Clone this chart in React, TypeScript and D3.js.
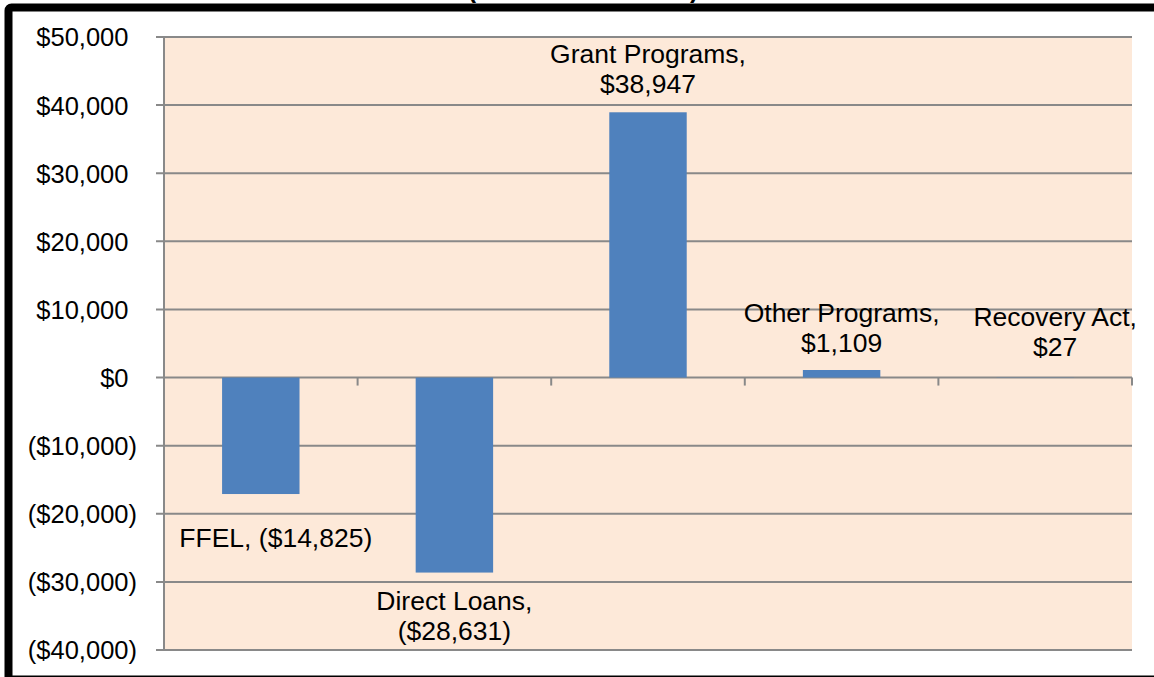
import React from "react";
import * as d3 from "d3";

// ---- data ----
const categories = ["FFEL", "Direct Loans", "Grant Programs", "Other Programs", "Recovery Act"];
const values = [-17100, -28631, 38947, 1109, 27];
const valueLabels = ["($14,825)", "($28,631)", "$38,947", "$1,109", "$27"];
const yTickValues = [-40000, -30000, -20000, -10000, 0, 10000, 20000, 30000, 40000, 50000];
const titleText = "(Dollars in Millions)";

// ---- layout ----
const W = 1154;
const H = 677;
const plot = { left: 164, right: 1132, top: 37, bottom: 650 };
const tickFont = 25.5;
const labelFont = 26.5;
const lineH = 30.5;
const font = "'Liberation Sans', Arial, Helvetica, sans-serif";
const gridColor = "#898989";
const barColor = "#4F81BD";
const bgColor = "#FDE9D9";
// per-label nudges (dx, dy) and single-line flags
const labelNudge = [
  { dx: 15, dy: 16, one: true },
  { dx: 0, dy: 0, one: false },
  { dx: 0, dy: -1, one: false },
  { dx: 0, dy: 0, one: false },
  { dx: 20, dy: -3, one: false },
];

function fmtTick(v: number) {
  const f = d3.format("$,");
  return v < 0 ? `(${f(-v)})` : f(v);
}

export default function App() {
  const y = d3.scaleLinear().domain([-40000, 50000]).range([plot.bottom, plot.top]);
  const x = d3
    .scaleBand<string>()
    .domain(categories)
    .range([plot.left, plot.right])
    .paddingInner(0.6)
    .paddingOuter(0.3);
  const step = x.step();
  const y0 = y(0);

  return (
    <svg
      width={W}
      height={H}
      style={{ position: "absolute", left: 0, top: 0, background: "#fff" }}
      fontFamily={font}
    >
      {/* title (mostly cut off, as in the reference) */}
      <text x={583} y={-2} textAnchor="middle" fontSize={25} fontWeight="bold" fill="#000">
        {titleText}
      </text>
      {/* frame */}
      <rect x={8.5} y={7.5} width={1200} height={672} fill="none" stroke="#000" strokeWidth={8} rx={3} />

      {/* plot background */}
      <rect x={plot.left} y={plot.top} width={plot.right - plot.left} height={plot.bottom - plot.top} fill={bgColor} />

      {/* gridlines + y ticks */}
      {yTickValues.map((v) => (
        <g key={v}>
          <line x1={plot.left - 8} x2={plot.right} y1={y(v)} y2={y(v)} stroke={gridColor} strokeWidth={2} />
          <text
            x={v < 0 ? 137 : 137 - 0.333 * tickFont}
            y={y(v)}
            dy="0.37em"
            textAnchor="end"
            fontSize={tickFont}
            fill="#000"
          >
            {fmtTick(v)}
          </text>
        </g>
      ))}

      {/* y axis line */}
      <line x1={plot.left} x2={plot.left} y1={plot.top} y2={plot.bottom} stroke={gridColor} strokeWidth={2} />

      {/* bars */}
      {categories.map((c, i) => {
        const v = values[i];
        const top = Math.min(y(v), y0);
        const h = Math.abs(y(v) - y0);
        return <rect key={c} x={x(c)} y={top} width={x.bandwidth()} height={h} fill={barColor} />;
      })}

      {/* category ticks on zero line */}
      {categories.map((c, i) => {
        const tx = plot.left + step * (i + 1);
        return <line key={"t" + c} x1={tx} x2={tx} y1={y0} y2={y0 + 8} stroke={gridColor} strokeWidth={2} />;
      })}

      {/* data labels */}
      {categories.map((c, i) => {
        const v = values[i];
        const n = labelNudge[i];
        const cx = (x(c) as number) + x.bandwidth() / 2 + n.dx;
        const lines = n.one ? [`${c}, ${valueLabels[i]}`] : [`${c},`, valueLabels[i]];
        let firstBaseline: number;
        if (v >= 0) {
          firstBaseline = y(v) - 18 - lineH * (lines.length - 1) + n.dy;
        } else {
          firstBaseline = y(v) + 37 + n.dy;
        }
        return (
          <text key={"l" + c} x={cx} y={firstBaseline} textAnchor="middle" fontSize={labelFont} fill="#000">
            {lines.map((t, k) => (
              <tspan key={k} x={cx} dy={k === 0 ? 0 : lineH}>
                {t}
              </tspan>
            ))}
          </text>
        );
      })}
    </svg>
  );
}
